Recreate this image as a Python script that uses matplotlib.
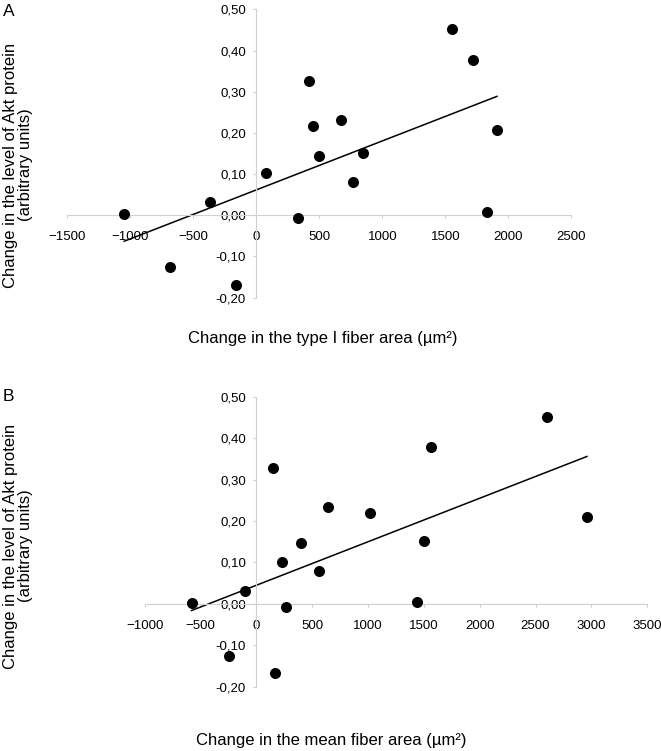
import numpy as np
from matplotlib import pyplot as plt
from matplotlib.ticker import FuncFormatter, MultipleLocator

# panel A: change in type I fiber area vs change in Akt
area_a = [-1050, -690, -370, -165, 75, 330, 420, 450, 500, 670, 770, 850, 1550, 1720, 1830, 1910]
akt_a = [0.003, -0.125, 0.032, -0.168, 0.103, -0.007, 0.325, 0.217, 0.145, 0.232, 0.082, 0.151, 0.452, 0.377, 0.007, 0.208]

# panel B: change in mean fiber area vs change in Akt
area_b = [-580, -245, -100, 150, 170, 230, 270, 400, 560, 640, 1020, 1435, 1500, 1560, 2600, 2960]
akt_b = [0.002, -0.126, 0.032, 0.327, -0.166, 0.101, -0.007, 0.146, 0.080, 0.234, 0.219, 0.005, 0.153, 0.378, 0.452, 0.210]

ylabel = "Change in the level of Akt protein\n(arbitrary units)"
plt.rcParams['font.family'] = ['Liberation Sans', 'DejaVu Sans']

fig = plt.figure(figsize=(6.61, 7.51), dpi=100)


def panel(rect, xs, ys, xlim, xstep):
    ax = fig.add_axes(rect)
    ax.scatter(xs, ys, s=48, color='black', zorder=3)
    k, b = np.polyfit(xs, ys, 1)
    xl = np.array([min(xs), max(xs)])
    ax.plot(xl, k * xl + b, color='black', lw=1.1)
    ax.set_xlim(*xlim)
    ax.set_ylim(-0.2, 0.5)
    ax.xaxis.set_major_locator(MultipleLocator(xstep))
    ax.yaxis.set_major_locator(MultipleLocator(0.1))
    ax.yaxis.set_major_formatter(FuncFormatter(lambda v, p: f"{v:.2f}".replace('.', ',')))
    ax.spines['left'].set_position(('data', 0))
    ax.spines['bottom'].set_position(('data', 0))
    ax.spines['top'].set_visible(False)
    ax.spines['right'].set_visible(False)
    for s in ('left', 'bottom'):
        ax.spines[s].set_color('#d0d0d0')
    ax.tick_params(axis='both', color='#d0d0d0', length=2.5, labelsize=9.5)
    ax.tick_params(axis='x', pad=9)
    ax.tick_params(axis='y', pad=5)
    ax.patch.set_alpha(0)
    return ax


panel([0.1021, 0.6036, 0.7622, 0.384], area_a, akt_a, (-1500, 2500), 500)
panel([0.2188, 0.0856, 0.7604, 0.3860], area_b, akt_b, (-1000, 3500), 500)

fig.text(0.004, 0.995, "A", fontsize=12.5, va='top')
fig.text(0.004, 1 - 389 / 751, "B", fontsize=12.5, va='top')

fig.text(0.027, 1 - 165 / 751, ylabel, rotation=90, ha='center', va='center',
         fontsize=12, linespacing=1.05)
fig.text(0.027, 1 - 546 / 751, ylabel, rotation=90, ha='center', va='center',
         fontsize=12, linespacing=1.05)

fig.text(323 / 661, 1 - 338 / 751, "Change in the type I fiber area (µm²)",
         ha='center', va='center', fontsize=12)
fig.text(331 / 661, 1 - 741 / 751, "Change in the mean fiber area (µm²)",
         ha='center', va='center', fontsize=12)

fig.savefig('out.png', dpi=100)
